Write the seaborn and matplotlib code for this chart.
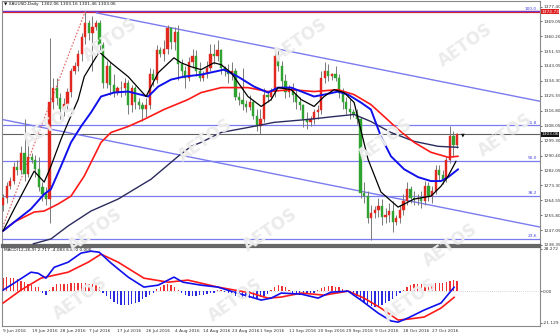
import numpy as np
import pandas as pd
import matplotlib
matplotlib.use("Agg")
import matplotlib.pyplot as plt
import seaborn as sns

sns.set_theme(style="white")
plt.rcParams['font.family'] = ['DejaVu Sans']

# ---------------- data ----------------
title_text = "\u25bc XAUUSD,Daily  1302.06 1303.16 1301.46 1303.06"
macd_text = "MACD(12,26,9) 2.717 -4.083 6.800 0.000"

date_label_bars = [0, 8, 16, 24, 32, 40, 48, 56, 64, 72, 80, 88, 96, 104, 112, 120]
date_labels = ["9 Jun 2016", "19 Jun 2016", "28 Jun 2016", "7 Jul 2016", "17 Jul 2016",
               "26 Jul 2016", "4 Aug 2016", "14 Aug 2016", "23 Aug 2016", "1 Sep 2016",
               "11 Sep 2016", "20 Sep 2016", "29 Sep 2016", "9 Oct 2016", "18 Oct 2016",
               "27 Oct 2016"]

opens = [1262, 1266, 1273, 1276, 1284, 1282, 1292, 1280, 1290, 1288,
         1283, 1272, 1268, 1265, 1322, 1330, 1324, 1318, 1321, 1328,
         1340, 1343, 1350, 1360, 1368, 1362, 1366, 1368, 1355, 1333,
         1343, 1332, 1328, 1330, 1330, 1333, 1320, 1330, 1322, 1320,
         1318, 1320, 1338, 1335, 1352, 1350, 1353, 1365, 1357, 1363,
         1344, 1340, 1336, 1345, 1349, 1340, 1336, 1338, 1342, 1350,
         1349, 1352, 1342, 1340, 1338, 1340, 1325, 1323, 1321, 1319,
         1322, 1314, 1308, 1312, 1326, 1325, 1328, 1349, 1343, 1334,
         1328, 1330, 1326, 1322, 1320, 1312, 1310, 1312, 1316, 1317,
         1336, 1340, 1337, 1338, 1336, 1327, 1322, 1318, 1316, 1315,
         1312, 1269, 1267, 1254, 1257, 1259, 1261, 1255, 1256, 1258,
         1252, 1254, 1259, 1264, 1271, 1266, 1265, 1266, 1264, 1273,
         1267, 1270, 1282, 1279, 1277, 1288, 1302, 1297]
highs = [1268, 1275, 1278, 1287, 1288, 1296, 1312, 1298, 1292, 1291,
         1290, 1275, 1272, 1359, 1336, 1336, 1327, 1324, 1330, 1342,
         1345, 1352, 1362, 1375, 1370, 1372, 1370, 1370, 1357, 1346,
         1345, 1338, 1331, 1334, 1336, 1335, 1332, 1331, 1324, 1322,
         1324, 1342, 1341, 1355, 1354, 1358, 1367, 1366, 1366, 1367,
         1347, 1343, 1348, 1353, 1352, 1345, 1340, 1346, 1356, 1356,
         1358, 1353, 1343, 1344, 1345, 1342, 1328, 1342, 1323, 1326,
         1323, 1318, 1318, 1330, 1328, 1330, 1353, 1352, 1346, 1338,
         1332, 1333, 1329, 1325, 1321, 1316, 1314, 1318, 1320, 1340,
         1345, 1344, 1339, 1343, 1338, 1330, 1325, 1324, 1318, 1318,
         1313, 1275, 1270, 1262, 1261, 1266, 1265, 1260, 1263, 1264,
         1256, 1262, 1268, 1275, 1273, 1270, 1268, 1270, 1276, 1275,
         1273, 1285, 1285, 1282, 1290, 1308, 1305, 1304]
lows = [1258, 1263, 1271, 1274, 1279, 1280, 1276, 1278, 1286, 1278,
        1270, 1264, 1262, 1251, 1318, 1320, 1312, 1314, 1317, 1325,
        1338, 1340, 1346, 1356, 1358, 1340, 1364, 1352, 1330, 1330,
        1326, 1325, 1326, 1325, 1326, 1315, 1316, 1318, 1318, 1311,
        1313, 1318, 1331, 1333, 1348, 1346, 1350, 1353, 1352, 1335,
        1337, 1330, 1334, 1342, 1337, 1334, 1334, 1336, 1340, 1344,
        1346, 1338, 1337, 1333, 1335, 1323, 1320, 1317, 1316, 1317,
        1312, 1305, 1303, 1310, 1322, 1323, 1325, 1340, 1330, 1324,
        1325, 1322, 1318, 1317, 1307, 1306, 1308, 1309, 1312, 1315,
        1333, 1334, 1335, 1334, 1324, 1318, 1315, 1312, 1313, 1309,
        1266, 1263, 1251, 1241, 1254, 1255, 1250, 1251, 1252, 1246,
        1250, 1251, 1256, 1262, 1263, 1262, 1262, 1260, 1262, 1264,
        1263, 1268, 1276, 1274, 1275, 1286, 1290, 1295]
closes = [1266, 1273, 1276, 1284, 1282, 1292, 1280, 1290, 1288, 1283,
          1272, 1268, 1265, 1322, 1330, 1324, 1318, 1321, 1328, 1340,
          1343, 1350, 1360, 1368, 1362, 1366, 1368, 1355, 1333, 1343,
          1332, 1328, 1330, 1330, 1333, 1320, 1330, 1322, 1320, 1318,
          1320, 1338, 1335, 1352, 1350, 1353, 1365, 1357, 1363, 1344,
          1340, 1336, 1345, 1349, 1340, 1336, 1338, 1342, 1350, 1349,
          1352, 1342, 1340, 1338, 1340, 1325, 1323, 1321, 1319, 1322,
          1314, 1308, 1312, 1326, 1325, 1328, 1349, 1343, 1334, 1328,
          1330, 1326, 1322, 1320, 1312, 1310, 1312, 1316, 1317, 1336,
          1340, 1337, 1338, 1336, 1327, 1322, 1318, 1316, 1315, 1312,
          1269, 1267, 1254, 1257, 1259, 1261, 1255, 1256, 1258, 1252,
          1254, 1259, 1264, 1271, 1266, 1265, 1266, 1264, 1273, 1267,
          1270, 1282, 1279, 1277, 1288, 1302, 1297, 1303.06]

# moving averages (bar index, price)
ma_black_bars = [0, 3.1, 8.7, 11.5, 13.4, 16.2, 18.2, 21, 22.7, 26.9, 30.2, 35, 40, 43.4, 47.8,
                 49.8, 52.6, 55.4, 59, 61, 63.8, 68.5, 72.2, 75, 76.9, 80.6, 83.4, 87, 89.8,
                 92.6, 95.4, 98.2, 102.1, 105.7, 110.5, 115, 119.7, 122.5, 124.5, 126.7]
ma_black = [1246.6, 1259.4, 1281.5, 1275.1, 1284.4, 1300.1, 1310.0, 1323.3, 1336.7, 1351.2,
            1344.8, 1336.7, 1325.1, 1339.0, 1347.7, 1344.8, 1342.5, 1340.8, 1344.8, 1343.7,
            1339.0, 1325.1, 1319.3, 1323.3, 1330.3, 1329.1, 1323.3, 1319.3, 1325.1, 1329.1,
            1327.4, 1321.6, 1288.4, 1269.3, 1260.5, 1265.2, 1266.9, 1272.7, 1278.6, 1287.3]
ma_blue_bars = [0, 7.8, 11.5, 13.4, 16.2, 19, 21.8, 24.6, 27.4, 31, 35, 40.6, 43.4, 47, 50.6,
                55.4, 61.8, 65.7, 70.2, 74.1, 76.9, 80.6, 84.2, 87, 89.8, 93.7, 96.5, 100.1,
                102.9, 105.7, 108.5, 112.2, 116.1, 119.7, 122.5, 124.5, 127.3]
ma_blue = [1246.6, 1259.4, 1268.1, 1271.0, 1284.4, 1298.3, 1307.6, 1315.8, 1325.1, 1327.4,
           1328.0, 1325.1, 1330.9, 1335.0, 1336.7, 1337.9, 1340.8, 1336.7, 1330.9, 1327.4,
           1330.3, 1330.3, 1327.4, 1325.1, 1326.2, 1328.0, 1326.2, 1321.6, 1317.5, 1301.8,
           1290.2, 1282.6, 1278.0, 1275.7, 1275.7, 1278.0, 1282.6]
ma_red_bars = [0, 3.1, 8.7, 11.5, 15.4, 19, 22.7, 27.4, 30.2, 35, 39.4, 45, 51.7, 55.4, 61,
               68.5, 74.1, 80.6, 87, 93.7, 98.2, 102.9, 106.6, 110.5, 115, 119.7, 124.5, 127.3]
ma_red = [1246.6, 1251.8, 1257.6, 1258.2, 1262.3, 1266.9, 1278.6, 1298.3, 1304.1, 1307.6,
          1311.7, 1317.5, 1323.3, 1327.4, 1330.3, 1330.3, 1328.0, 1329.1, 1328.0, 1329.1,
          1326.2, 1320.4, 1313.4, 1305.9, 1298.3, 1292.5, 1289.6, 1290.2]
ma_navy_bars = [8.4, 13.4, 18.2, 24.6, 32.2, 41.4, 49, 52.6, 55.4, 61, 68.5, 75.8, 85.3,
                92.6, 98.2, 102.9, 108.5, 115, 121.7, 127.3]
ma_navy = [1239.0, 1241.9, 1249.5, 1258.2, 1265.2, 1276.8, 1290.2, 1296.0, 1298.3, 1304.1,
           1307.0, 1310.0, 1311.7, 1313.4, 1314.6, 1310.5, 1304.1, 1298.9, 1296.0, 1295.4]

# trend channel and Fibonacci anchor line (bar index, price)
upper_channel_bars = [26, 151]
upper_channel_prices = [1374.0, 1322.0]
lower_channel_bars = [-1, 151]
lower_channel_prices = [1312.0, 1248.5]
fib_anchor_bars = [-9, 23]
fib_anchor_prices = [1200.4, 1374.9]

fib_names = ["100.0", "61.8", "50.0", "38.2", "23.6"]
fib_prices = [1374.9, 1308.3, 1287.6, 1266.9, 1241.9]
hline_red_price = 1374.73
current_price = 1303.06

price_tick_labels = ["1377.40", "1369.05", "1360.20", "1351.55", "1343.05", "1334.30",
                     "1325.55", "1316.80", "1308.05", "1299.30", "1290.40", "1282.05",
                     "1273.30", "1264.55", "1255.80", "1247.05", "1238.35"]

# MACD
macd_bars = [0, 3.1, 7.8, 9.8, 12, 14.3, 18.2, 21.8, 24.6, 26.9, 30.2, 35, 39.4, 43.4, 47.8,
             50.3, 55.4, 60.1, 64.6, 69.4, 72.2, 75, 77.8, 83.4, 88.1, 91.7, 96.5, 100.1,
             104.9, 108.5, 110.5, 113.3, 117.8, 122.5, 126.2]
macd_line = [0.7, 5.4, 12.7, 12.0, 8.7, 16.0, 19.4, 25.5, 26.8, 26.1, 18.8, 9.4, 2.7, 4.0, 9.4,
             6.0, 4.0, 2.7, -0.7, -4.0, -6.0, -4.7, -1.3, -2.0, -4.7, -0.7, 0.0, -6.0,
             -14.7, -20.0, -20.8, -18.0, -12.7, -8.0, 2.7]
signal_bars = [0, 5, 10.6, 18.2, 23.8, 27.4, 32.2, 39.4, 46.2, 51.7, 60.1, 69.4, 74.1, 77.8,
               83.4, 89.8, 96.5, 101, 105.7, 110.5, 113.3, 117.8, 122.5, 126.2]
signal_line = [-8.0, 0.7, 8.7, 12.7, 19.4, 24.8, 19.4, 8.7, 6.0, 7.4, 2.7, -1.3, -4.7, -4.0,
               -1.3, -2.7, 0.0, -4.7, -11.4, -19.4, -18.8, -17.4, -11.4, -4.1]
macd_hist = [9, 9.5, 9, 8.5, 8, 7, 6, 5, 4, 3,
             2.5, -1.5, -2.5, 1, 3, 4.5, 5, 5, 5, 5.5,
             5.5, 5.5, 5.5, 5.5, 5, 5, 4, 3, -1, -3,
             -5, -7, -8.5, -9.5, -9.5, -9, -8.5, -8, -7, -5.5,
             -4, -2.5, -1, 1.5, 3, 4, 4.5, 4, 3, 1,
             -1.5, -2.5, -3, -3, -3, -2.5, -2.5, -2, -1.5, -1,
             0.5, 0.5, -0.5, -1, -2, -3, -4, -4.5, -4.5, -4.5,
             -4.5, -4.5, -4, -3, -2, 1, 3, 4, 3.5, 2.5,
             1, -1, -2, -2.5, -2.5, -2, -1.5, -1, 0.5, 2,
             3, 3.5, 3.5, 3, 2.5, 1.5, 0.5, -1, -2, -3,
             -5, -7, -8.5, -10, -10.5, -10, -9, -8, -6.5, -5,
             -3.5, -1.5, 1, 3, 4, 4.5, 4.5, 4.5, 4.5, 5,
             5, 5.5, 5.5, 5.5, 6, 7, 7.5, 6.8]
macd_tick_values = [28.272, 0.0, -21.129]
macd_tick_labels = ["28.272", "0.00", "-21.129"]

watermark_px = [(110, 40), (300, 40), (465, 45), (50, 125), (205, 140), (385, 140),
                (505, 135), (95, 230), (270, 230), (450, 245), (80, 298), (235, 300), (410, 300)]

# ---------------- figure ----------------
W, H = 560, 336
fig = plt.figure(figsize=(W / 100, H / 100), dpi=100)
fig.patch.set_facecolor("white")

def axrect(x0, y0, x1, y1):
    return [x0 / W, 1 - y1 / H, (x1 - x0) / W, (y1 - y0) / H]

ax = fig.add_axes(axrect(2, 1, 540, 245))
axm = fig.add_axes(axrect(2, 247, 540, 326))

xmin, xmax = -0.3, 150.2
main_ylim = (1239.0, 1380.9)

UP = "#e0281e"
DOWN = "#2fa32f"
WICK = "#7a7a7a"
FIB = "#7b7bf0"
FS = 3.1

n = len(closes)
idx = np.arange(n)
o = np.array(opens, float); c = np.array(closes, float)
h = np.array(highs, float); l = np.array(lows, float)
up = c >= o

# faint watermarks
for (px, py) in watermark_px:
    fig.text(px / W, 1 - py / H, "AETOS", fontsize=12, fontweight="bold", color="#ebebeb",
             rotation=35, ha="center", va="center", zorder=0)

ax.set_facecolor("none")
axm.set_facecolor("none")

# horizontal levels
ax.axhline(hline_red_price, color="#e02020", lw=1.6, zorder=1)
for name, p in zip(fib_names, fib_prices):
    ax.axhline(p, color=FIB if name != "100.0" else "#6a3ad0", lw=0.9, zorder=1.2)
    ax.text(149.3, p + 0.4, name, fontsize=FS, color="#4040e0", ha="right", va="bottom")
ax.axhline(current_price, color="#606060", lw=0.8, zorder=1.1)

# channel & fib anchor
sns.lineplot(x=upper_channel_bars, y=upper_channel_prices, ax=ax, color=FIB, lw=1.0,
             estimator=None, sort=False, zorder=1.3)
sns.lineplot(x=lower_channel_bars, y=lower_channel_prices, ax=ax, color=FIB, lw=1.0,
             estimator=None, sort=False, zorder=1.3)
ax.plot(fib_anchor_bars, fib_anchor_prices, color="#e06060", lw=0.8, ls=(0, (1.5, 1.5)), zorder=1.3)

# candles
ax.vlines(idx, l, h, color=WICK, lw=0.7, zorder=2)
body_lo = np.minimum(o, c)
body_h = np.maximum(np.abs(c - o), 0.35)
ax.bar(idx, body_h, bottom=body_lo, width=0.62, color=np.where(up, UP, DOWN),
       edgecolor=np.where(up, UP, DOWN), linewidth=0.3, zorder=3)

# moving averages
sns.lineplot(x=ma_navy_bars, y=ma_navy, ax=ax, color="#2b2b5e", lw=1.0, estimator=None, sort=False, zorder=4)
sns.lineplot(x=ma_red_bars, y=ma_red, ax=ax, color="#ff1a1a", lw=1.2, estimator=None, sort=False, zorder=4)
sns.lineplot(x=ma_blue_bars, y=ma_blue, ax=ax, color="#1010ee", lw=1.4, estimator=None, sort=False, zorder=4)
sns.lineplot(x=ma_black_bars, y=ma_black, ax=ax, color="#000000", lw=0.9, estimator=None, sort=False, zorder=5)

ax.set_xlim(xmin, xmax)
ax.set_ylim(*main_ylim)
ax.set_xticks([])
price_tick_values = [float(s) for s in price_tick_labels]
ax.yaxis.tick_right()
ax.set_yticks(price_tick_values)
ax.set_yticklabels(price_tick_labels)
ax.tick_params(axis="y", labelsize=FS, length=1.5, width=0.5, pad=0.8, colors="#333333")
ax.set_ylabel("")
ax.set_xlabel("")

# price boxes on the axis
ax.text(1.002, hline_red_price, f"{hline_red_price:.2f}", transform=ax.get_yaxis_transform(),
        fontsize=FS, color="white", va="center", ha="left",
        bbox=dict(boxstyle="square,pad=0.12", fc="#e02020", ec="none"))
ax.text(1.002, current_price, f"{current_price:.2f}", transform=ax.get_yaxis_transform(),
        fontsize=FS, color="white", va="center", ha="left",
        bbox=dict(boxstyle="square,pad=0.12", fc="#111111", ec="none"))

ax.text(0.004, 0.995, title_text, transform=ax.transAxes, fontsize=FS, va="top", ha="left",
        color="#111111")
ax.text(128.6, 1302.5, "\u25bc", fontsize=3.5, color="#111111", ha="center", va="center")

for sp in ax.spines.values():
    sp.set_color("#8a8a8a"); sp.set_linewidth(0.8)
ax.spines["bottom"].set_linewidth(1.6)
ax.spines["bottom"].set_color("#666666")

# MACD panel
hist = np.array(macd_hist, float)
axm.bar(np.arange(len(hist)), hist, width=0.38, color=np.where(hist >= 0, "#ee3030", "#2a2ae0"),
        linewidth=0, zorder=2)
axm.axhline(0, color="#b0b0b0", lw=0.5, ls=(0, (1, 2)), zorder=1)
sns.lineplot(x=signal_bars, y=signal_line, ax=axm, color="#ff1a1a", lw=1.2, estimator=None, sort=False, zorder=3)
sns.lineplot(x=macd_bars, y=macd_line, ax=axm, color="#1010ee", lw=1.2, estimator=None, sort=False, zorder=4)
axm.set_xlim(xmin, xmax)
axm.set_ylim(-23.4, 29.6)
axm.yaxis.tick_right()
axm.set_yticks(macd_tick_values)
axm.set_yticklabels(macd_tick_labels)
axm.tick_params(axis="y", labelsize=FS, length=1.5, width=0.5, pad=0.8, colors="#333333")
axm.set_xticks(date_label_bars)
axm.set_xticklabels(date_labels, ha="left")
axm.tick_params(axis="x", labelsize=FS, length=1.5, width=0.5, pad=0.8, colors="#333333")
axm.set_ylabel(""); axm.set_xlabel("")
axm.text(0.004, 0.985, macd_text, transform=axm.transAxes, fontsize=FS, va="top", ha="left",
         color="#111111")
for sp in axm.spines.values():
    sp.set_color("#8a8a8a"); sp.set_linewidth(0.8)
axm.spines["top"].set_linewidth(1.6)
axm.spines["top"].set_color("#666666")

fig.savefig("out.png", dpi=100, facecolor="white")
